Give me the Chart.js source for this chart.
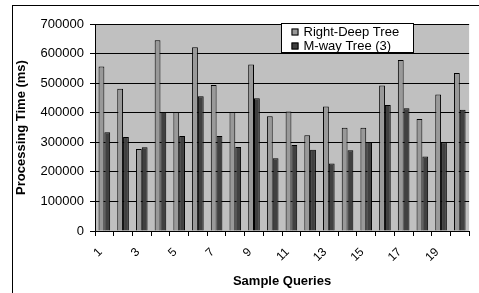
<!DOCTYPE html>
<html>
<head>
<meta charset="utf-8">
<script src="https://cdn.jsdelivr.net/npm/chart.js@4"></script>
<style>
  body { margin: 0; background: #fff; }
  canvas { display: block; }
</style>
</head>
<body>
<canvas id="myChart" width="479" height="293"></canvas>
<script>
'use strict';

const queries = ['1', '2', '3', '4', '5', '6', '7', '8', '9', '10',
  '11', '12', '13', '14', '15', '16', '17', '18', '19', '20'];
const rightDeep = [556000, 481000, 277000, 645000, 402000, 621000, 494000, 402000, 563000, 388000,
  404000, 324000, 421000, 349000, 349000, 492000, 578000, 379000, 462000, 534000];
const mway = [334000, 318000, 283000, 402000, 321000, 456000, 321000, 284000, 449000, 246000,
  291000, 275000, 228000, 273000, 301000, 426000, 415000, 252000, 300000, 410000];
const yMax = 700000;
const yStep = 100000;

const fontFamily = "Arial, 'Liberation Sans', sans-serif";

// white page, the outer frame and the grey plot area
const backdrop = {
  id: 'backdrop',
  beforeDraw(chart) {
    const ctx = chart.ctx;
    const a = chart.chartArea;
    ctx.save();
    ctx.fillStyle = '#ffffff';
    ctx.fillRect(0, 0, chart.width, chart.height);
    ctx.strokeStyle = '#000000';
    ctx.lineWidth = 1;
    ctx.strokeRect(12.5, 5.5, 600, 400);
    ctx.fillStyle = '#c0c0c0';
    ctx.fillRect(a.left, a.top, a.right - a.left, a.bottom - a.top);
    ctx.restore();
  }
};

// legend box sitting inside the plot, like the Excel one
const boxLegend = {
  id: 'boxLegend',
  afterDraw(chart) {
    const ctx = chart.ctx;
    const x = 281.5, y = 23.5, w = 132, h = 29;
    ctx.save();
    ctx.fillStyle = '#ffffff';
    ctx.fillRect(x, y, w, h);
    ctx.strokeStyle = '#000000';
    ctx.lineWidth = 1;
    ctx.strokeRect(x, y, w, h);
    ctx.font = '13px ' + fontFamily;
    ctx.textBaseline = 'middle';
    chart.data.datasets.forEach((ds, i) => {
      const cy = y + 8.5 + i * 14;
      ctx.fillStyle = ds.backgroundColor;
      ctx.fillRect(x + 10, cy - 3.5, 7, 7);
      ctx.strokeRect(x + 10.5, cy - 3, 6, 6);
      ctx.fillStyle = '#000000';
      ctx.fillText(ds.label, x + 22, cy + 0.5);
    });
    ctx.restore();
  }
};

new Chart(document.getElementById('myChart'), {
  type: 'bar',
  data: {
    labels: queries,
    datasets: [
      {
        label: 'Right-Deep Tree',
        data: rightDeep,
        backgroundColor: '#999999',
        borderColor: '#000000',
        borderWidth: 1,
        borderSkipped: 'bottom',
      },
      {
        label: 'M-way Tree (3)',
        data: mway,
        backgroundColor: '#404040',
        borderColor: '#000000',
        borderWidth: 1,
        borderSkipped: 'bottom',
      },
    ],
  },
  options: {
    responsive: false,
    animation: false,
    devicePixelRatio: 1,
    layout: { padding: { left: 12, right: 2, top: 24, bottom: 0 } },
    datasets: { bar: { categoryPercentage: 0.62, barPercentage: 1.0 } },
    plugins: {
      legend: { display: false },
      tooltip: { enabled: false },
    },
    scales: {
      x: {
        grid: {
          offset: true,
          drawOnChartArea: false,
          color: '#000000',
          tickLength: 5,
        },
        border: { color: '#000000' },
        ticks: {
          autoSkip: false,
          minRotation: 45,
          maxRotation: 45,
          color: '#000000',
          font: { family: fontFamily, size: 12 },
          padding: 9,
          labelOffset: -4,
          callback: function (value, index) {
            return index % 2 === 0 ? queries[index] : '';
          },
        },
        title: {
          display: true,
          text: 'Sample Queries',
          color: '#000000',
          font: { family: fontFamily, size: 13, weight: 'bold' },
          padding: { top: 0, bottom: 4 },
        },
        afterFit(scale) { scale.height = 62; },
      },
      y: {
        min: 0,
        max: yMax,
        grid: {
          color: '#000000',
          tickLength: 5,
        },
        border: { color: '#000000' },
        ticks: {
          stepSize: yStep,
          color: '#000000',
          font: { family: fontFamily, size: 13 },
          padding: 6,
          callback: (v) => String(v),
        },
        title: {
          display: true,
          text: 'Processing Time (ms)',
          color: '#000000',
          font: { family: fontFamily, size: 13, weight: 'bold' },
          padding: { top: 2, bottom: 0 },
        },
        afterFit(scale) { scale.width = 83; },
      },
    },
  },
  plugins: [backdrop, boxLegend],
});
</script>
</body>
</html>
